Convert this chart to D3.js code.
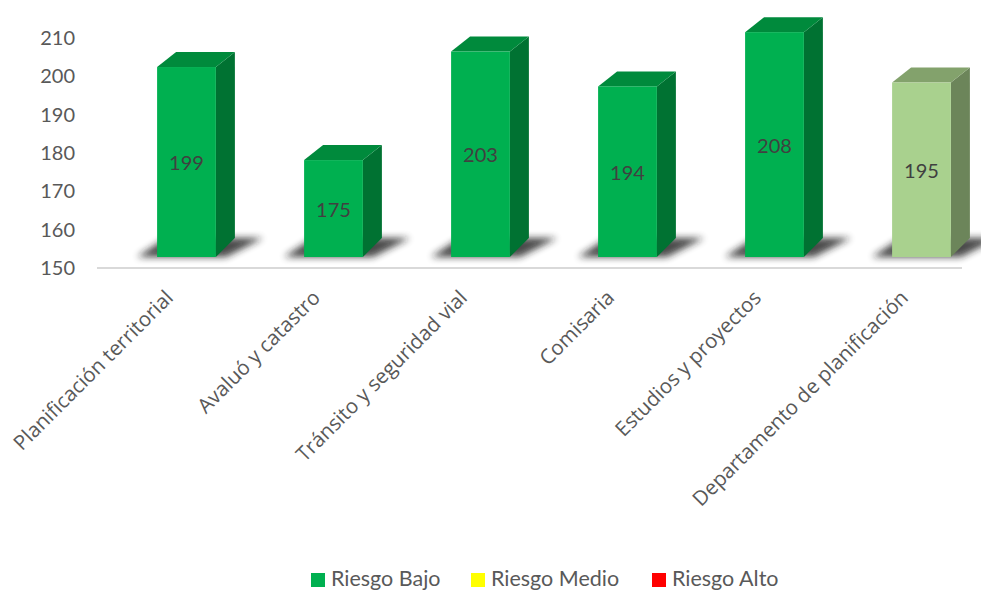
<!DOCTYPE html>
<html>
<head>
<meta charset="utf-8">
<script src="https://cdn.jsdelivr.net/npm/d3@7"></script>
<style>
  html, body { margin: 0; padding: 0; background: #ffffff; }
  svg { display: block; }
</style>
</head>
<body>
<svg id="chart" width="981" height="591"></svg>
<script>
// Departments and their scores
const categories = [
  "Planificación territorial",
  "Avaluó y catastro",
  "Tránsito y seguridad vial",
  "Comisaria",
  "Estudios y proyectos",
  "Departamento de planificación"
];
const values = [199, 175, 203, 194, 208, 195];
const riskLevel = ["Bajo", "Bajo", "Bajo", "Bajo", "Bajo", "Medio-bajo"];
const yTicks = [150, 160, 170, 180, 190, 200, 210];
const legendItems = ["Riesgo Bajo", "Riesgo Medio", "Riesgo Alto"];
const legendColors = ["#00B050", "#FFFF00", "#FF0000"];

// Face colours per risk level: front, top, side
const palette = {
  "Bajo":       { front: "#00B050", top: "#008A3C", side: "#007232" },
  "Medio-bajo": { front: "#A9D18E", top: "#83A26C", side: "#6C855A" }
};

const svg = d3.select("#chart");

const x = d3.scaleBand()
  .domain(categories)
  .range([113, 995])
  .paddingInner(0.6)
  .paddingOuter(0.3);

// Axis scale (tick labels) and front-face scale (slight perspective)
const yAxis = d3.scaleLinear().domain([150, 210]).range([268, 38]);
const yFront = d3.scaleLinear().domain([150, 210]).range([257, 257 - 60 * 3.877]);

const depthX = 19, depthY = -15;

// Soft floor shadow
const defs = svg.append("defs");
defs.append("filter").attr("id", "soft")
  .attr("x", "-50%").attr("y", "-50%").attr("width", "200%").attr("height", "200%")
  .append("feGaussianBlur").attr("stdDeviation", 3.5);

// Y axis labels
const axisG = svg.append("g")
  .attr("transform", "translate(80,0)")
  .call(d3.axisLeft(yAxis).tickValues(yTicks).tickSize(0).tickPadding(5));
axisG.select(".domain").remove();
axisG.selectAll("text")
  .attr("font-family", "Lato, 'Open Sans', sans-serif")
  .attr("font-size", 20)
  .attr("fill", "#595959");

// Category baseline
svg.append("line")
  .attr("x1", 97).attr("x2", 962)
  .attr("y1", 268).attr("y2", 268)
  .attr("stroke", "#D9D9D9").attr("stroke-width", 2);

const data = categories.map((c, i) => ({ cat: c, value: values[i], level: riskLevel[i] }));

const bars = svg.append("g").selectAll("g").data(data).join("g");

// shadows
bars.append("polygon")
  .attr("points", d => {
    const l = x(d.cat), r = l + x.bandwidth(), b = yFront(150);
    return [[l - 20, b], [r + 10, b], [r + depthX + 28, b - 19], [l + depthX - 10, b - 19]]
      .map(p => p.join(",")).join(" ");
  })
  .attr("fill", "#1a1a1a")
  .attr("opacity", 0.8)
  .attr("filter", "url(#soft)");

// side face
bars.append("polygon")
  .attr("points", d => {
    const r = x(d.cat) + x.bandwidth(), t = yFront(d.value), b = yFront(150);
    return [[r, t], [r + depthX, t + depthY], [r + depthX, b + depthY - 4], [r, b]]
      .map(p => p.join(",")).join(" ");
  })
  .attr("fill", d => palette[d.level].side);

// top face
bars.append("polygon")
  .attr("points", d => {
    const l = x(d.cat), r = l + x.bandwidth(), t = yFront(d.value);
    return [[l, t], [l + depthX, t + depthY], [r + depthX, t + depthY], [r, t]]
      .map(p => p.join(",")).join(" ");
  })
  .attr("fill", d => palette[d.level].top);

// front face
bars.append("rect")
  .attr("x", d => x(d.cat))
  .attr("y", d => yFront(d.value))
  .attr("width", x.bandwidth())
  .attr("height", d => yFront(150) - yFront(d.value))
  .attr("fill", d => palette[d.level].front);

// value labels
bars.append("text")
  .attr("x", d => x(d.cat) + x.bandwidth() / 2)
  .attr("y", d => (yFront(d.value) + yFront(150)) / 2)
  .attr("text-anchor", "middle")
  .attr("dominant-baseline", "central")
  .attr("font-family", "Lato, 'Open Sans', sans-serif")
  .attr("font-size", 20)
  .attr("fill", "#404040")
  .text(d => d.value);

// rotated category labels
svg.append("g").selectAll("text").data(categories).join("text")
  .attr("transform", d => `translate(${x(d) + x.bandwidth() / 2 - 12},${299}) rotate(-45)`)
  .attr("text-anchor", "end")
  .attr("font-family", "'Open Sans', sans-serif")
  .attr("font-size", 20.5)
  .attr("fill", "#595959")
  .text(d => d);

// legend
const legendX = [311, 471, 652];
const lg = svg.append("g").selectAll("g").data(legendItems).join("g")
  .attr("transform", (d, i) => `translate(${legendX[i]},573)`);
lg.append("rect").attr("width", 14).attr("height", 14)
  .attr("fill", (d, i) => legendColors[i]);
lg.append("text")
  .attr("x", 20).attr("y", 13)
  .attr("font-family", "Lato, 'Open Sans', sans-serif")
  .attr("font-size", 21.5)
  .attr("fill", "#595959")
  .text(d => d);
</script>
</body>
</html>
